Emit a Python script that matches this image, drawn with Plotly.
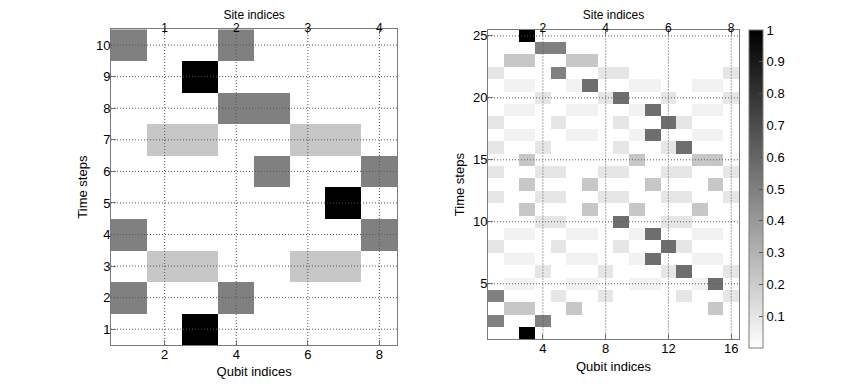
import plotly.graph_objects as go

# qubit / time indices
qubits_a = [1, 2, 3, 4, 5, 6, 7, 8]
steps_a = list(range(1, 11))
qubits_b = list(range(1, 17))
steps_b = list(range(1, 26))

# left panel: rows are time steps 1..10, columns qubits 1..8
occupation_a = [
    [0, 0, 1, 0, 0, 0, 0, 0],
    [0.5, 0, 0, 0.5, 0, 0, 0, 0],
    [0, 0.22, 0.22, 0, 0, 0.22, 0.22, 0],
    [0.5, 0, 0, 0, 0, 0, 0, 0.5],
    [0, 0, 0, 0, 0, 0, 1, 0],
    [0, 0, 0, 0, 0.5, 0, 0, 0.5],
    [0, 0.22, 0.22, 0, 0, 0.22, 0.22, 0],
    [0, 0, 0, 0.5, 0.5, 0, 0, 0],
    [0, 0, 1, 0, 0, 0, 0, 0],
    [0.5, 0, 0, 0.5, 0, 0, 0, 0],
]

# right panel: rows are time steps 1..25, columns qubits 1..16
occupation_b = [
    [0, 0, 1, 0, 0, 0, 0, 0, 0, 0, 0, 0, 0, 0, 0, 0],
    [0.5, 0, 0, 0.5, 0, 0, 0, 0, 0, 0, 0, 0, 0, 0, 0, 0],
    [0, 0.22, 0.22, 0, 0, 0.22, 0, 0, 0, 0, 0, 0, 0, 0, 0.22, 0],
    [0.5, 0, 0, 0, 0.1, 0, 0, 0.1, 0, 0, 0, 0, 0.1, 0, 0, 0.1],
    [0, 0.05, 0.05, 0, 0, 0.05, 0.05, 0, 0, 0.05, 0.05, 0, 0, 0.05, 0.57, 0],
    [0, 0, 0, 0.1, 0, 0, 0, 0.1, 0, 0, 0, 0.1, 0.57, 0, 0, 0.1],
    [0, 0.05, 0.05, 0, 0, 0.05, 0.05, 0, 0, 0.05, 0.57, 0, 0, 0.05, 0.05, 0],
    [0.1, 0, 0, 0, 0.1, 0, 0, 0, 0.1, 0, 0, 0.57, 0.1, 0, 0, 0],
    [0, 0.05, 0.05, 0, 0, 0.05, 0.05, 0, 0, 0.05, 0.57, 0, 0, 0.05, 0.05, 0],
    [0, 0, 0, 0.1, 0.1, 0, 0, 0, 0.57, 0, 0, 0.1, 0.1, 0, 0, 0],
    [0, 0, 0.22, 0, 0, 0, 0.22, 0, 0, 0.22, 0, 0, 0, 0.22, 0, 0],
    [0.1, 0, 0, 0.1, 0.1, 0, 0, 0.1, 0.1, 0, 0, 0.1, 0.1, 0, 0, 0.1],
    [0, 0, 0.22, 0, 0, 0, 0.22, 0, 0, 0, 0.22, 0, 0, 0, 0.22, 0],
    [0.1, 0, 0, 0.1, 0.1, 0, 0, 0.1, 0.1, 0, 0, 0.1, 0.1, 0, 0, 0.1],
    [0, 0, 0.22, 0, 0, 0, 0, 0, 0, 0.22, 0, 0, 0, 0.22, 0.22, 0],
    [0.1, 0, 0, 0.1, 0, 0, 0, 0, 0.1, 0, 0, 0.1, 0.57, 0, 0, 0],
    [0, 0.05, 0.05, 0, 0, 0.05, 0.05, 0, 0, 0.05, 0.57, 0, 0, 0.05, 0.05, 0],
    [0.1, 0, 0, 0, 0.1, 0, 0, 0, 0.1, 0, 0, 0.57, 0.1, 0, 0, 0],
    [0, 0.05, 0.05, 0, 0, 0.05, 0.05, 0, 0, 0.05, 0.57, 0, 0, 0.05, 0.05, 0],
    [0, 0, 0, 0.1, 0, 0, 0, 0.1, 0.57, 0, 0, 0.1, 0, 0, 0, 0.1],
    [0, 0.05, 0.05, 0, 0, 0.05, 0.57, 0, 0, 0.05, 0.05, 0, 0, 0.05, 0.05, 0],
    [0.1, 0, 0, 0, 0.5, 0, 0, 0.1, 0.1, 0, 0, 0, 0, 0, 0, 0.1],
    [0, 0.22, 0.22, 0, 0, 0.22, 0.22, 0, 0, 0, 0, 0, 0, 0, 0, 0],
    [0, 0, 0, 0.5, 0.5, 0, 0, 0, 0, 0, 0, 0, 0, 0, 0, 0],
    [0, 0, 1, 0, 0, 0, 0, 0, 0, 0, 0, 0, 0, 0, 0, 0],
]

xticks_a = [2, 4, 6, 8]
site_ticks_a = [1, 2, 3, 4]
yticks_a = steps_a
xticks_b = [4, 8, 12, 16]
site_ticks_b = [2, 4, 6, 8]
yticks_b = [5, 10, 15, 20, 25]
cbar_ticks = [0.1, 0.2, 0.3, 0.4, 0.5, 0.6, 0.7, 0.8, 0.9, 1]

FONT = "Liberation Sans"
gray_scale = [[0, "white"], [1, "black"]]
frame = "#7a7a7a"
tick_font = dict(size=13, family=FONT, color="black")
title_font = dict(size=13, family=FONT, color="black")
site_font = dict(size=12, family=FONT, color="black")

fig = go.Figure()
fig.add_trace(go.Heatmap(x=qubits_a, y=steps_a, z=occupation_a, colorscale=gray_scale,
                         zmin=0, zmax=1, showscale=False, xaxis="x", yaxis="y"))
fig.add_trace(go.Heatmap(x=qubits_b, y=steps_b, z=occupation_b, colorscale=gray_scale,
                         zmin=0, zmax=1, xaxis="x3", yaxis="y3",
                         colorbar=dict(x=0.8749, xanchor="left", xpad=0, y=0.526, yanchor="middle",
                                       ypad=0, len=0.8325, thickness=14, outlinecolor=frame,
                                       outlinewidth=1, tickvals=cbar_ticks, ticks="inside",
                                       ticklen=4, tickcolor="#555", tickfont=tick_font)))
# empty traces so the top (site) axes get drawn
fig.add_trace(go.Scatter(x=[], y=[], xaxis="x2", yaxis="y", showlegend=False))
fig.add_trace(go.Scatter(x=[], y=[], xaxis="x4", yaxis="y3", showlegend=False))

dom_a = [0.1216, 0.4596]
dom_b = [0.5667, 0.8631]
common = dict(showline=True, linecolor=frame, mirror=True, ticks="inside", ticklen=5,
              tickcolor=frame, showgrid=False, zeroline=False, layer="above traces",
              automargin=False)
bottom = dict(ticklabelstandoff=-3, tickfont=tick_font, **common)
top = dict(ticklabelstandoff=-8, tickfont=site_font, **common)
left = dict(ticklabelstandoff=-3, tickfont=tick_font, **common)

fig.update_layout(
    width=847, height=382, margin=dict(l=0, r=0, t=0, b=0),
    paper_bgcolor="white", plot_bgcolor="white", showlegend=False,
    xaxis=dict(domain=dom_a, range=[0.5, 8.5], tickvals=xticks_a, anchor="y",
               title=dict(text="Qubit indices", font=title_font, standoff=6), **bottom),
    xaxis2=dict(domain=dom_a, range=[0.25, 4.25], tickvals=site_ticks_a, overlaying="x",
                side="top", anchor="y",
                title=dict(text="Site indices", font=site_font, standoff=10), **top),
    yaxis=dict(domain=[0.1178, 0.9442], range=[0.5, 10.5], tickvals=yticks_a, anchor="x",
               title=dict(text="Time steps", font=title_font, standoff=5), **left),
    xaxis3=dict(domain=dom_b, range=[0.5, 16.5], tickvals=xticks_b, anchor="y3",
                title=dict(text="Qubit indices", font=title_font, standoff=6), **bottom),
    xaxis4=dict(domain=dom_b, range=[0.25, 8.25], tickvals=site_ticks_b, overlaying="x3",
                side="top", anchor="y3",
                title=dict(text="Site indices", font=site_font, standoff=10), **top),
    yaxis3=dict(domain=[0.1322, 0.9432], range=[0.5, 25.5], tickvals=yticks_b, anchor="x3",
                title=dict(text="Time steps", font=title_font, standoff=5), **left),
)

# dotted grid drawn over the images, as in the original
grid = dict(color="#555", width=1, dash="1px,2px")
for xr, yr, xt, yt in [("x", "y", xticks_a, yticks_a), ("x3", "y3", xticks_b, yticks_b)]:
    for v in xt:
        fig.add_shape(type="line", xref=xr, yref=yr + " domain", x0=v, x1=v, y0=0, y1=1,
                      line=grid, layer="above")
    for v in yt:
        fig.add_shape(type="line", xref=xr + " domain", yref=yr, x0=0, x1=1, y0=v, y1=v,
                      line=grid, layer="above")

fig.write_html("out.html")
